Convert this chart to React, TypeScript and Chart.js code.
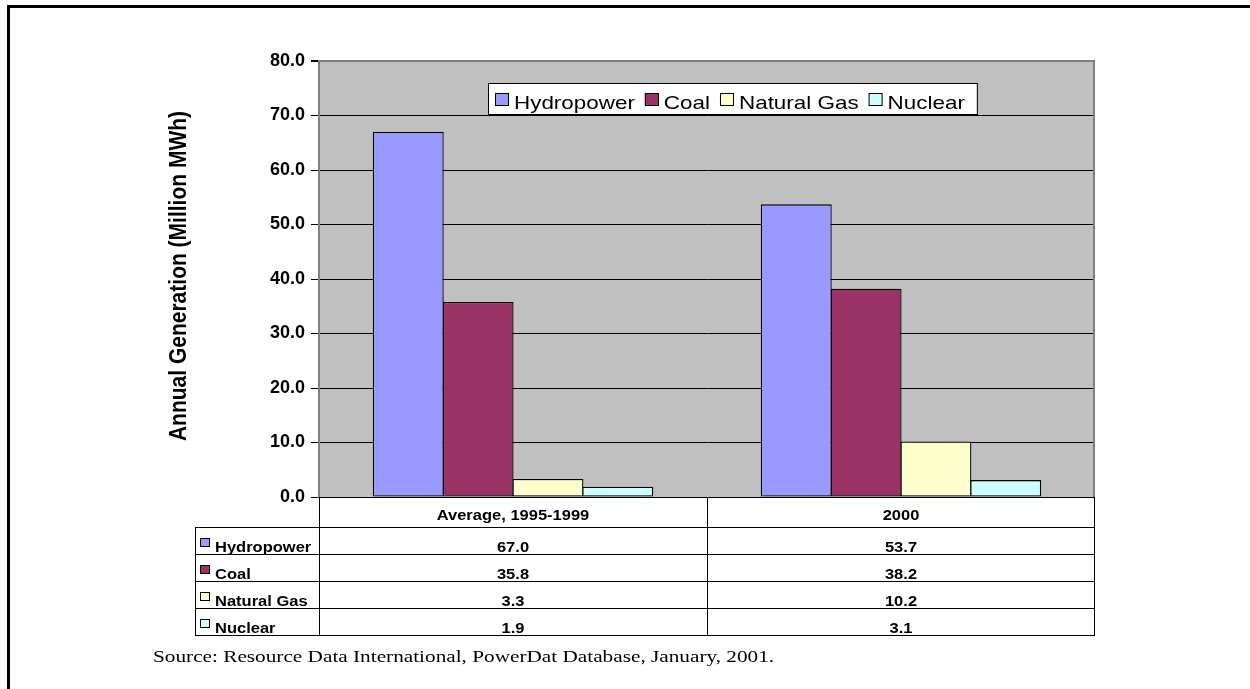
import React, { useEffect, useRef } from "react";
import { Chart, registerables } from "chart.js";

Chart.register(...registerables);

const categories = ["Average, 1995-1999", "2000"];
const seriesNames = ["Hydropower", "Coal", "Natural Gas", "Nuclear"];
const hydropower = [67.0, 53.7];
const coal = [35.8, 38.2];
const naturalGas = [3.3, 10.2];
const nuclear = [1.9, 3.1];
const seriesColors = ["#9999FF", "#993366", "#FFFFCC", "#CCFFFF"];
const yMin = 0;
const yMax = 80;
const yStep = 10;
const yTitle = "Annual Generation (Million MWh)";
const sourceText = "Source: Resource Data International, PowerDat Database, January, 2001.";

const SANS = '"Liberation Sans", Arial, sans-serif';
const SERIF = '"Liberation Serif", "Times New Roman", serif';

function drawText(
  ctx: CanvasRenderingContext2D,
  text: string,
  x: number,
  y: number,
  font: string,
  align: "left" | "center" | "right",
  sx: number
) {
  ctx.save();
  ctx.font = font;
  const w = ctx.measureText(text).width * sx;
  const left = align === "center" ? x - w / 2 : align === "right" ? x - w : x;
  ctx.translate(left, y);
  ctx.scale(sx, 1);
  ctx.textAlign = "left";
  ctx.textBaseline = "alphabetic";
  ctx.fillStyle = "#000";
  ctx.fillText(text, 0, 0);
  ctx.restore();
  return w;
}

const decorPlugin = {
  id: "decor",
  beforeDraw(chart: any) {
    const { ctx, chartArea: a } = chart;
    ctx.save();
    ctx.fillStyle = "#fff";
    ctx.fillRect(0, 0, chart.width, chart.height);
    ctx.fillStyle = "#C0C0C0";
    ctx.fillRect(a.left, a.top, a.right - a.left, a.bottom - a.top);
    ctx.restore();
  },
  afterDraw(chart: any) {
    const { ctx, chartArea: a } = chart;
    const datasets = chart.data.datasets;
    ctx.save();

    // plot right border
    ctx.fillStyle = "#808080";
    ctx.fillRect(a.right - 2, a.top, 2, a.bottom - a.top);

    // outer frame
    ctx.fillStyle = "#000";
    ctx.fillRect(7, 5, chart.width - 7, 3);
    ctx.fillRect(7, 5, 3, chart.height - 5);

    // legend
    const legLeft = 488;
    const legTop = 83;
    const legH = 31;
    const legFont = `19px ${SANS}`;
    const legSx = 1.18;
    ctx.font = legFont;
    let total = 7;
    datasets.forEach((d: any, i: number) => {
      total += 14 + 5 + ctx.measureText(d.label).width * legSx + (i < datasets.length - 1 ? 10 : 0);
    });
    total += 12;
    ctx.fillStyle = "#fff";
    ctx.fillRect(legLeft, legTop, total, legH);
    ctx.strokeStyle = "#000";
    ctx.lineWidth = 1;
    ctx.strokeRect(legLeft + 0.5, legTop + 0.5, total, legH);
    let lx = legLeft + 7;
    datasets.forEach((d: any) => {
      ctx.fillStyle = d.backgroundColor;
      ctx.fillRect(lx, legTop + 10, 14, 13);
      ctx.strokeStyle = "#000";
      ctx.strokeRect(lx + 0.5, legTop + 10.5, 13, 12);
      lx += 19;
      const w = drawText(ctx, d.label, lx, legTop + 26, legFont, "left", legSx);
      lx += w + 10;
    });

    // data table
    const xScale = chart.scales.x;
    const n = categories.length;
    const catW = (a.right - a.left) / n;
    const tblTop = a.bottom;
    const headerH = 30;
    const rowH = 27;
    const labelLeft = 195;
    const tblBottom = tblTop + headerH + rowH * datasets.length;
    const boldFont = `bold 15px ${SANS}`;
    const tSx = 1.1;

    ctx.fillStyle = "#fff";
    ctx.fillRect(a.left, tblTop + 1, a.right - a.left, tblBottom - tblTop);
    ctx.strokeStyle = "#000";
    ctx.lineWidth = 1;
    ctx.beginPath();
    for (let r = 0; r <= datasets.length; r++) {
      const y = Math.round(tblTop + headerH + r * rowH) + 0.5;
      ctx.moveTo(labelLeft, y);
      ctx.lineTo(a.right, y);
    }
    ctx.moveTo(labelLeft + 0.5, tblTop + headerH);
    ctx.lineTo(labelLeft + 0.5, tblBottom + 1);
    for (let c = 0; c <= n; c++) {
      const x = Math.round(a.left + c * catW) + (c === n ? -0.5 : 0.5);
      ctx.moveTo(x, tblTop);
      ctx.lineTo(x, tblBottom + 1);
    }
    ctx.stroke();

    categories.forEach((cat, i) => {
      const cx = xScale.getPixelForValue(i);
      drawText(ctx, cat, cx, tblTop + headerH - 7, boldFont, "center", tSx);
    });
    datasets.forEach((d: any, r: number) => {
      const rowBottom = tblTop + headerH + (r + 1) * rowH;
      ctx.fillStyle = d.backgroundColor;
      ctx.fillRect(labelLeft + 5, rowBottom - 16, 10, 9);
      ctx.strokeStyle = "#000";
      ctx.strokeRect(labelLeft + 5.5, rowBottom - 15.5, 9, 8);
      drawText(ctx, d.label, labelLeft + 20, rowBottom - 2, boldFont, "left", tSx);
      d.data.forEach((v: number, i: number) => {
        const cx = xScale.getPixelForValue(i);
        drawText(ctx, v.toFixed(1), cx, rowBottom - 2, boldFont, "center", tSx);
      });
    });

    // y title
    ctx.save();
    ctx.translate(180, (a.top + a.bottom) / 2 - 3);
    ctx.rotate(-Math.PI / 2);
    ctx.scale(1, 1.12);
    ctx.font = `bold 21px ${SANS}`;
    ctx.textAlign = "center";
    ctx.textBaseline = "middle";
    ctx.fillStyle = "#000";
    ctx.fillText(yTitle, 0, 0);
    ctx.restore();

    // source
    drawText(ctx, sourceText, 153, 662, `17px ${SERIF}`, "left", 1.25);

    ctx.restore();
  },
};

export default function App() {
  const canvasRef = useRef<HTMLCanvasElement | null>(null);

  useEffect(() => {
    const canvas = canvasRef.current;
    if (!canvas) return;
    const seriesValues = [hydropower, coal, naturalGas, nuclear];
    const chart = new Chart(canvas, {
      type: "bar",
      data: {
        labels: categories,
        datasets: seriesNames.map((name, i) => ({
          label: name,
          data: seriesValues[i],
          backgroundColor: seriesColors[i],
          borderColor: "#000",
          borderWidth: 1.3,
          borderSkipped: false,
          categoryPercentage: 0.72,
          barPercentage: 1.016,
        })),
      },
      options: {
        responsive: false,
        animation: false,
        devicePixelRatio: 1,
        layout: { padding: { left: 0, top: 61, right: 155, bottom: 192 } },
        plugins: {
          legend: { display: false },
          tooltip: { enabled: false },
          title: { display: false },
        },
        scales: {
          x: { display: false },
          y: {
            min: yMin,
            max: yMax,
            afterFit: (scale: any) => {
              scale.width = 319;
            },
            ticks: {
              stepSize: yStep,
              callback: (v: any) => Number(v).toFixed(1),
              color: "#000",
              font: { family: SANS, size: 18, weight: "bold" },
              padding: 6,
            },
            grid: {
              color: (c: any) => (c.tick && c.tick.value === yMax ? "#808080" : "#000"),
              lineWidth: (c: any) => (c.tick && c.tick.value === yMax ? 2 : 1),
              tickColor: "#000",
              tickLength: 8,
              drawTicks: true,
            },
            border: { display: true, color: "#808080", width: 2 },
          },
        },
      },
      plugins: [decorPlugin],
    });
    return () => chart.destroy();
  }, []);

  return (
    <div style={{ position: "absolute", left: 0, top: 0, width: 1250, height: 689 }}>
      <canvas ref={canvasRef} width={1250} height={689} style={{ display: "block" }} />
    </div>
  );
}
